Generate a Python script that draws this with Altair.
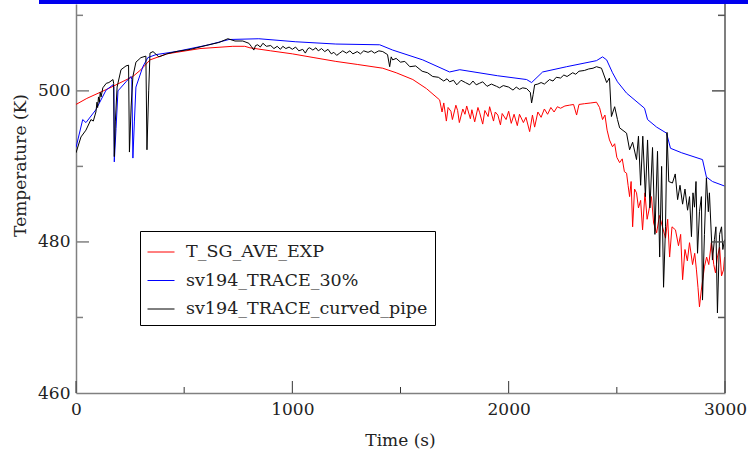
import altair as alt
import pandas as pd

# ---- data ----
red_t = [0, 50, 157, 263, 300, 342, 420, 573, 725, 780, 804, 900, 1000, 1100, 1201, 1300, 1418, 1480, 1557, 1620, 1681,
         1692, 1700, 1712, 1720, 1733, 1740, 1756, 1764, 1772, 1788, 1798, 1806, 1823, 1830, 1843, 1858, 1866, 1880,
         1890, 1905, 1912, 1930, 1938, 1950, 1962, 1970, 1988, 2000, 2012, 2025, 2040, 2050, 2068, 2080, 2097, 2110,
         2120, 2135, 2150, 2165, 2180, 2195, 2210, 2225, 2240, 2260, 2280, 2300, 2314, 2325, 2350, 2380, 2406, 2420,
         2434, 2445, 2455, 2466, 2480, 2490, 2500, 2513, 2525, 2535, 2545, 2552, 2559, 2566, 2573, 2582, 2591, 2600,
         2610, 2619, 2630, 2640, 2651, 2660, 2670, 2684, 2697, 2711, 2725, 2735, 2744, 2755, 2771, 2785, 2795, 2804,
         2815, 2826, 2836, 2850, 2860, 2868, 2875, 2882, 2890, 2905, 2915, 2925, 2937, 2948, 2956, 2965, 2975, 2984,
         2993, 2998]
red_v = [498.2, 499.0, 500.4, 501.9, 502.8, 504.1, 504.9, 505.6, 505.9, 505.9, 505.7, 505.3, 504.9, 504.4, 503.9, 503.5,
         503.0, 502.4, 501.5, 500.3, 498.8,
         497.2, 498.4, 496.0, 497.8, 497.3, 496.2, 498.1, 497.4, 495.8, 497.6, 496.9, 498.0, 496.3, 497.5, 495.9, 497.8,
         497.1, 495.6, 497.4, 496.6, 497.9, 496.0, 497.2, 496.8, 495.5, 497.0, 496.2, 497.3, 495.7, 496.9, 495.4, 496.9,
         495.8, 496.5, 494.6, 496.8, 495.2, 497.2, 496.5, 497.6, 496.9, 497.8, 497.2, 497.9, 497.7, 498.0, 498.1, 498.2,
         496.8, 498.2, 498.3, 498.4, 498.5, 497.8, 496.2, 496.8, 494.8, 493.5, 492.6, 493.0, 491.2, 490.5, 491.0, 489.3,
         489.1, 487.5, 486.0, 488.0, 482.0, 487.0, 486.5, 484.5, 485.5, 481.6, 486.5, 483.0, 484.6, 486.0, 482.5, 481.2,
         483.5, 482.0, 480.5, 483.0, 478.0, 482.0, 481.6, 479.5, 481.0, 475.0, 479.0, 477.5, 479.9, 477.0, 478.5, 476.3,
         474.0, 471.4, 473.5, 476.7, 478.0, 477.0, 479.9, 477.0, 475.9, 478.0, 479.3, 475.5, 476.3, 478.0]

blue_t = [0, 31, 46, 92, 139, 171, 175, 177, 185, 194, 231, 254, 258, 263, 270, 277, 309, 332, 370, 462, 614, 707, 845,
          1016, 1201, 1404, 1464, 1603, 1727, 1774, 1949, 2083, 2106, 2157, 2268, 2406, 2434, 2453, 2480, 2503, 2545,
          2628, 2642, 2684, 2730, 2748, 2800, 2896, 2914, 2942, 2998]
blue_v = [492.5, 496.2, 495.8, 497.5, 500.1, 500.8, 500.5, 490.6, 495.0, 500.0, 501.2, 501.9, 501.5, 491.1, 496.0, 500.5,
          503.2, 504.4, 504.8, 505.2, 506.1, 506.8, 506.9, 506.5, 506.2, 506.1, 505.4, 504.1, 502.5, 502.8, 502.0, 501.5,
          501.1, 502.5, 503.2, 504.0, 504.5, 504.1, 502.4, 501.2, 499.7, 497.7, 496.2, 495.2, 494.4, 492.4, 491.8, 490.9,
          488.6, 488.0, 487.4]

black_t = [0, 23, 46, 69, 80, 92, 97, 100, 104, 108, 112, 116, 124, 140, 152, 171, 174, 177, 182, 190, 208, 231, 243,
           247, 255, 263, 277, 300, 323, 328, 336, 342, 356, 383, 420, 462, 530, 614, 660, 702, 735, 771,
           799, 810, 822, 830, 840, 852, 864, 880, 900, 915, 930, 945, 956, 970, 985, 1000, 1015, 1030, 1048, 1060,
           1072, 1080, 1095, 1109, 1120, 1135, 1150, 1165, 1180, 1192, 1205, 1219, 1233, 1250, 1266, 1280, 1300, 1315,
           1330, 1350, 1365, 1380, 1400, 1418, 1440, 1450, 1457,
           1464, 1480, 1500, 1520, 1543, 1570, 1600, 1625, 1649, 1675, 1700, 1715, 1727, 1745, 1760, 1780, 1800, 1820,
           1835, 1850, 1865, 1880, 1900, 1920, 1944, 1958, 1975, 2000, 2020, 2035, 2050, 2065, 2083, 2100, 2106, 2113,
           2120, 2135, 2150, 2165, 2189, 2205, 2220, 2240, 2255, 2270, 2296, 2310, 2325, 2350, 2370, 2390, 2406, 2429,
           2453, 2466, 2475, 2490, 2503, 2513, 2545, 2559, 2573, 2591,
           2600, 2610, 2620, 2632, 2642, 2653, 2665, 2676, 2688, 2698, 2707, 2716, 2725, 2732, 2740, 2757, 2770, 2781,
           2792, 2804, 2815, 2827, 2836, 2845, 2852, 2859, 2866, 2873, 2882, 2891, 2896, 2905, 2914, 2923, 2928, 2942,
           2951, 2958, 2965, 2975, 2984, 2990, 2998]
black_v = [491.8, 493.9, 494.8, 496.2, 496.0, 497.2, 498.5, 497.8, 499.2, 498.5, 499.8, 499.2, 500.4, 501.0, 501.1, 501.5,
           501.0, 491.3, 496.0, 500.5, 502.8, 503.3, 503.4, 491.9, 498.0, 501.9, 503.8, 504.4, 504.6, 492.2, 500.0, 505.0,
           505.2, 504.5, 504.9, 505.2, 505.5, 506.1, 506.4, 506.9, 506.6, 506.6,
           506.3, 505.9, 505.4, 506.0, 506.1, 505.8, 506.3, 505.9, 506.0, 505.6, 505.9, 505.5, 505.9, 505.6, 505.8, 505.5,
           505.8, 505.3, 505.5, 505.0, 505.6, 505.7, 505.4, 505.7, 505.3, 505.6, 505.2, 505.5, 504.9, 505.1, 504.7, 505.0,
           505.3, 505.0, 505.3, 504.9, 505.2, 504.9, 505.3, 505.1, 505.3, 505.0, 505.3, 505.2, 504.8, 503.2, 504.5,
           504.1, 504.3, 503.8, 503.9, 503.2, 503.3, 502.6, 502.4, 501.9, 501.8, 501.3, 501.6, 501.2, 501.4, 500.8, 501.4,
           501.1, 500.8, 501.3, 500.8, 501.0, 501.2, 500.6, 500.9, 500.6, 500.4, 500.7, 500.5, 500.1, 500.5, 500.2, 500.4,
           500.3, 499.8, 498.4, 499.5,
           500.8, 500.9, 501.1, 500.9, 501.5, 501.3, 501.8, 501.7, 502.1, 501.9, 502.4, 502.2, 502.6, 502.7, 502.9, 503.0,
           503.2, 503.0,
           501.1, 501.7, 496.6, 497.9, 496.2, 495.1, 494.4, 492.2, 493.2, 490.9,
           494.0, 487.5, 494.0, 486.0, 493.5, 484.5, 492.5, 481.0, 492.0, 478.0, 490.0, 474.0, 482.0, 494.5, 488.0, 487.8,
           489.0, 485.6, 487.5, 485.0, 487.0, 484.2, 486.0, 480.7, 486.5, 484.6, 488.0, 478.5, 484.0, 486.0, 472.3, 481.0,
           488.5, 484.0, 486.5, 477.6, 480.3, 482.0, 470.6, 481.0, 482.0, 479.0, 480.3]

series_names = ["T_SG_AVE_EXP", "sv194_TRACE_30%", "sv194_TRACE_curved_pipe"]
series_colors = ["#ff0000", "#0000ff", "#000000"]

x_labels = [0, 1000, 2000, 3000]
x_minor = [500, 1500, 2500]
y_labels = [460, 480, 500]
y_major_inner = [480, 500]
y_minor = [470, 490, 510]

# ---- build tables ----
frames = []
for name, ts, vs in zip(series_names, [red_t, blue_t, black_t], [red_v, blue_v, black_v]):
    frames.append(pd.DataFrame({"t": ts, "T": vs, "series": name, "i": range(len(ts))}))
df = pd.concat(frames, ignore_index=True)

W, H = 649, 389
FONT = "DejaVu Serif"
FS = 17
xs = alt.Scale(domain=[0, 3000], nice=False, zero=False)
ys = alt.Scale(domain=[460, 511.5], nice=False, zero=False)

lines = alt.Chart(df).mark_line(strokeWidth=1, clip=True).encode(
    x=alt.X("t:Q", scale=xs, axis=alt.Axis(
        values=x_labels, format="d", ticks=False, grid=False, domainColor="#808080", domainWidth=1.5,
        labelFont=FONT, labelFontSize=FS, labelColor="#222", labelPadding=8, labelFlush=False,
        title="Time (s)", titleFont=FONT, titleFontSize=FS, titleFontWeight="normal", titleColor="#222",
        titleX=324, titleY=47, titleBaseline="middle", titleAlign="center")),
    y=alt.Y("T:Q", scale=ys, axis=alt.Axis(
        values=y_labels, format="d", ticks=False, grid=False, domainColor="#808080", domainWidth=1.5,
        labelFont=FONT, labelFontSize=FS, labelColor="#222", labelPadding=6, labelFlush=False,
        title="Temperature (K)", titleFont=FONT, titleFontSize=FS, titleFontWeight="normal", titleColor="#222",
        titleX=-56, titleY=161, titleAngle=270, titleBaseline="middle", titleAlign="center")),
    color=alt.Color("series:N", scale=alt.Scale(domain=series_names, range=series_colors),
                    legend=alt.Legend(orient="none", legendX=64, legendY=227, title=None,
                                      symbolType="stroke", symbolSize=729, symbolStrokeWidth=1,
                                      labelFont=FONT, labelFontSize=17.5, labelColor="#222", labelOffset=11,
                                      strokeColor="#000000", fillColor="white", padding=7,
                                      labelLimit=400)),
    order="i:Q",
)

xt_major = pd.DataFrame({"v": x_labels})
xt_minor = pd.DataFrame({"v": x_minor})
yt_major = pd.DataFrame({"v": y_major_inner})
yt_minor = pd.DataFrame({"v": y_minor})

tick_color = "#333333"
x_major_ticks = alt.Chart(xt_major).mark_rule(color=tick_color, strokeWidth=1).encode(
    x=alt.X("v:Q", scale=xs), y=alt.value(H), y2=alt.value(H - 12))
x_minor_ticks = alt.Chart(xt_minor).mark_rule(color=tick_color, strokeWidth=1).encode(
    x=alt.X("v:Q", scale=xs), y=alt.value(H), y2=alt.value(H - 6))
yl_major = alt.Chart(yt_major).mark_rule(color="#808080", strokeWidth=1.5).encode(
    y=alt.Y("v:Q", scale=ys), x=alt.value(0), x2=alt.value(13))
yl_minor = alt.Chart(yt_minor).mark_rule(color="#808080", strokeWidth=1.5).encode(
    y=alt.Y("v:Q", scale=ys), x=alt.value(0), x2=alt.value(7))
yr_major = alt.Chart(yt_major).mark_rule(color="#555555", strokeWidth=1.5).encode(
    y=alt.Y("v:Q", scale=ys), x=alt.value(W), x2=alt.value(W - 13))
yr_minor = alt.Chart(yt_minor).mark_rule(color="#555555", strokeWidth=1.5).encode(
    y=alt.Y("v:Q", scale=ys), x=alt.value(W), x2=alt.value(W - 7))

one = pd.DataFrame({"k": [0]})
right_edge = alt.Chart(one).mark_rule(color="#555555", strokeWidth=1.5).encode(
    x=alt.value(W), y=alt.value(0), y2=alt.value(H))
top_bar = alt.Chart(one).mark_rect(color="#0000ee").encode(
    x=alt.value(-37), x2=alt.value(672), y=alt.value(-4), y2=alt.value(0))

chart = alt.layer(
    lines, x_major_ticks, x_minor_ticks, yl_major, yl_minor, yr_major, yr_minor, right_edge, top_bar
).properties(
    width=W, height=H,
    autosize=alt.AutoSizeParams(type="none"),
    padding={"left": 76, "top": 4, "right": 23, "bottom": 59},
    background="white",
).configure_view(stroke=None).configure_legend(rowPadding=5.5)

chart.save("out.html", embed_options={"renderer": "svg", "actions": False})
